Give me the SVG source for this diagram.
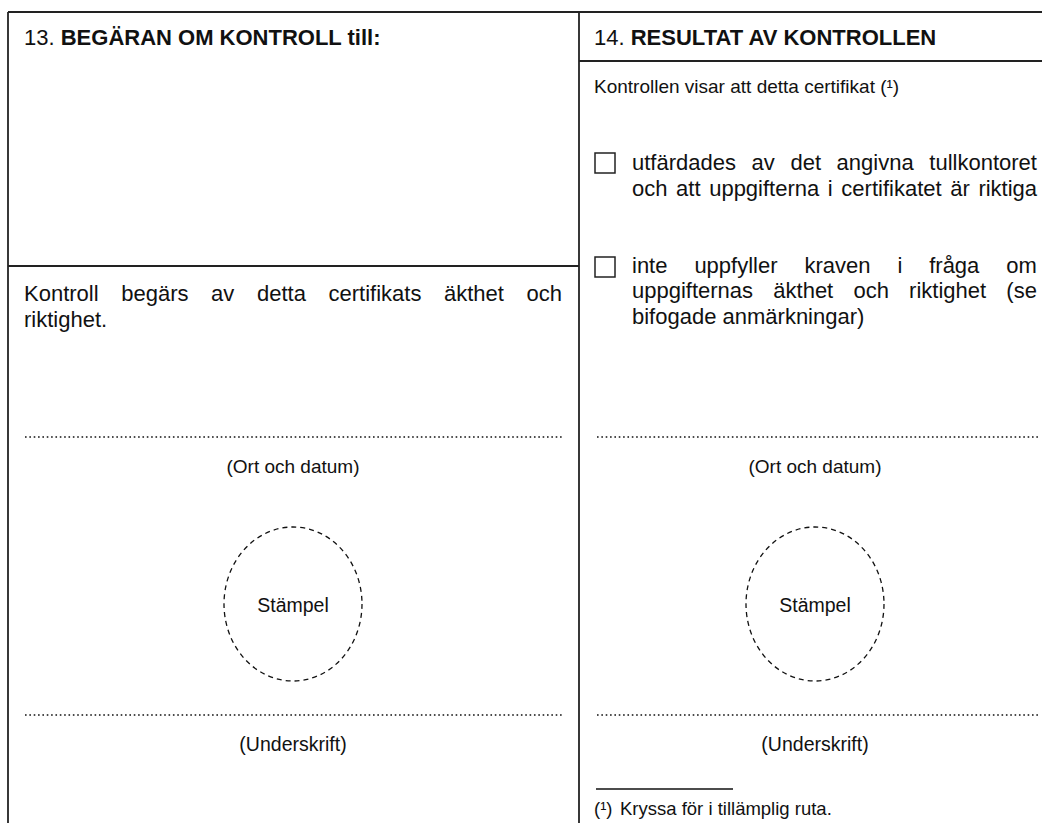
<svg xmlns="http://www.w3.org/2000/svg" width="1042" height="823" viewBox="0 0 1042 823">
<style>
text{font-family:"Liberation Sans",Arial,sans-serif;font-size:22px;fill:#111}
.b{font-weight:bold}
.c{text-anchor:middle;font-size:19.5px}
.frame{stroke:#222;stroke-width:1.8;fill:none}
.dots{stroke:#111;stroke-width:1.6;stroke-dasharray:1.6 2.75;fill:none}
.stamp{stroke:#111;stroke-width:1.3;stroke-dasharray:5 4;fill:none}
.box{stroke:#222;stroke-width:1.5;fill:#fff}
</style>
<rect width="1042" height="823" fill="#fff"/>
<g id="frame">
<line class="frame" x1="8" y1="12" x2="1042" y2="12"/>
<line class="frame" x1="8" y1="12" x2="8" y2="823"/>
<line class="frame" x1="579" y1="12" x2="579" y2="823"/>
<line class="frame" x1="579" y1="61" x2="1042" y2="61"/>
<line class="frame" x1="8" y1="266" x2="579" y2="266"/>
</g>
<g id="box13">
<text x="24" y="45">13. <tspan class="b">BEGÄRAN OM KONTROLL till:</tspan></text>
<text x="24" y="301" style="word-spacing:16.5px">Kontroll begärs av detta certifikats äkthet och</text>
<text x="24" y="327">riktighet.</text>
<line class="dots" x1="25" y1="437" x2="562" y2="437"/>
<text class="c" x="293" y="473" style="font-size:19px">(Ort och datum)</text>
<ellipse class="stamp" cx="293" cy="604" rx="69" ry="77"/>
<text class="c" x="293" y="612">Stämpel</text>
<line class="dots" x1="25" y1="715" x2="562" y2="715"/>
<text class="c" x="293" y="751">(Underskrift)</text>
</g>
<g id="box14">
<text x="594" y="45">14. <tspan class="b">RESULTAT AV KONTROLLEN</tspan></text>
<text x="594" y="93" style="font-size:19px">Kontrollen visar att detta certifikat (¹)</text>
<rect class="box" x="595" y="153" width="20" height="20"/>
<text x="632" y="170" style="word-spacing:9.5px">utfärdades av det angivna tullkontoret</text>
<text x="632" y="196" style="word-spacing:2.5px">och att uppgifterna i certifikatet är riktiga</text>
<rect class="box" x="595" y="257" width="20" height="20"/>
<text x="632" y="273" style="word-spacing:20.8px">inte uppfyller kraven i fråga om</text>
<text x="632" y="298" style="word-spacing:14.1px">uppgifternas äkthet och riktighet (se</text>
<text x="632" y="324">bifogade anmärkningar)</text>
<line class="dots" x1="597" y1="437" x2="1038" y2="437"/>
<text class="c" x="815" y="473" style="font-size:19px">(Ort och datum)</text>
<ellipse class="stamp" cx="815" cy="604" rx="69" ry="77"/>
<text class="c" x="815" y="612">Stämpel</text>
<line class="dots" x1="597" y1="715" x2="1038" y2="715"/>
<text class="c" x="815" y="751">(Underskrift)</text>
<line x1="596" y1="789" x2="733" y2="789" stroke="#111" stroke-width="1.4"/>
<text x="594" y="815" style="font-size:18.5px">(¹)</text>
<text x="620" y="815" style="font-size:18.5px">Kryssa för i tillämplig ruta.</text>
</g>
</svg>
